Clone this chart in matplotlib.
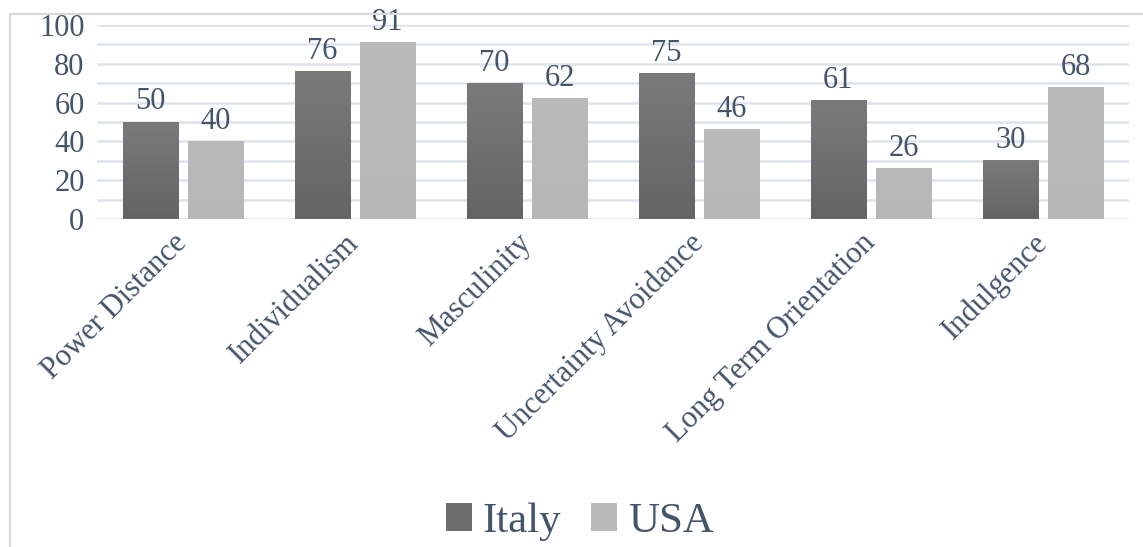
import matplotlib
matplotlib.use("Agg")
import matplotlib.pyplot as plt
import numpy as np
from matplotlib.colors import LinearSegmentedColormap
from matplotlib.patches import Patch
from matplotlib.lines import Line2D

categories = ["Power Distance", "Individualism", "Masculinity",
              "Uncertainty Avoidance", "Long Term Orientation", "Indulgence"]
italy = [50, 76, 70, 75, 61, 30]
usa = [40, 91, 62, 46, 26, 68]
series_names = ["Italy", "USA"]

TEXT = "#44546A"
GRID = "#DEE3EA"
plt.rcParams["font.family"] = ["Liberation Serif", "DejaVu Serif"]

fig = plt.figure(figsize=(11.43, 5.47), dpi=100)
ax = fig.add_axes([97 / 1143, 1 - 219 / 547, (1129 - 97) / 1143, (219 - 25) / 547])

x = np.arange(len(categories))
width = 0.32
offset = 0.19

grads = [LinearSegmentedColormap.from_list("it", ["#646464", "#7A7A7A"]),
         LinearSegmentedColormap.from_list("us", ["#B6B6B6", "#BABABA"])]
grad = np.linspace(0, 1, 256).reshape(-1, 1)

for vals, sign, cmap in [(italy, -1, grads[0]), (usa, 1, grads[1])]:
    bars = ax.bar(x + sign * offset, vals, width, color="none", zorder=3)
    for b, v in zip(bars, vals):
        x0 = b.get_x()
        ax.imshow(grad, cmap=cmap, origin="lower", aspect="auto",
                  extent=[x0, x0 + width, 0, v], zorder=3)
        ax.annotate(str(v), (x0 + width / 2, v), xytext=(0, 4),
                    textcoords="offset points", ha="center", va="bottom",
                    fontsize=22, color=TEXT)

ax.set_xlim(-0.5, len(categories) - 0.5)
ax.set_ylim(0, 100)
ax.set_yticks(range(0, 101, 20))
ax.set_yticks(range(10, 100, 20), minor=True)
ax.grid(axis="y", which="both", color=GRID, linewidth=1.8, zorder=0)
ax.set_axisbelow(True)
for s in ax.spines.values():
    s.set_visible(False)
ax.tick_params(axis="y", which="both", length=0, labelsize=22, labelcolor=TEXT, pad=9)
ax.tick_params(axis="x", length=0, pad=14)
ax.set_xticks(x)
ax.set_xticklabels(categories, rotation=45, ha="right", va="center",
                   rotation_mode="anchor", fontsize=22, color=TEXT)

# chart border
fig.add_artist(Line2D([10 / 1143, 10 / 1143, 1], [0, 1 - 14 / 547, 1 - 14 / 547],
                      transform=fig.transFigure, color="#D9D9D9", linewidth=1.5))

handles = [Patch(facecolor="#6E6E6E"), Patch(facecolor="#B8B8B8")]
fig.legend(handles, series_names, loc="center", bbox_to_anchor=(580 / 1143, 1 - 522 / 547),
           ncol=2, frameon=False, fontsize=31, labelcolor=TEXT,
           handlelength=0.6, handleheight=0.6, handletextpad=0.25,
           columnspacing=0.7)

plt.savefig("out.png", dpi=100)
